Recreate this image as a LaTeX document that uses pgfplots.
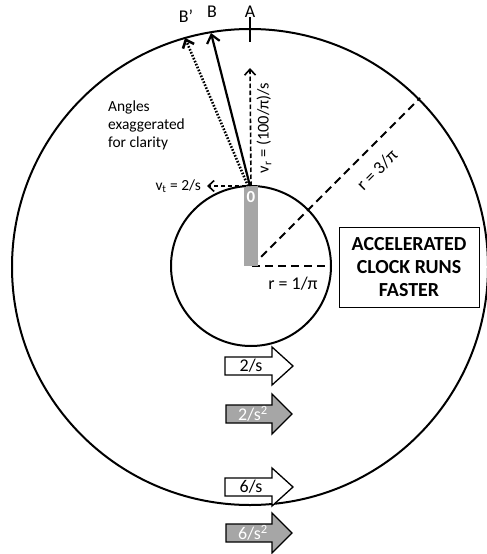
\documentclass[border=0pt]{standalone}
\usepackage{pgfplots}
\pgfplotsset{compat=1.18}
\usepackage{fontspec}
\setmainfont{Carlito}
\usetikzlibrary{arrows.meta}
\definecolor{bargray}{RGB}{166,166,166}
\begin{document}
\begin{tikzpicture}
\begin{axis}[
  width=487bp, height=554bp, scale only axis,
  xmin=0, xmax=487, ymin=0, ymax=554, y dir=reverse,
  axis lines=none, clip=false,
]
% circles
\draw[line width=2bp] (axis cs:250,267) circle[radius=238bp];
\draw[line width=2bp] (axis cs:251,266) circle[radius=80bp];
% radius lines
\addplot[line width=2bp, dash pattern=on 8bp off 5bp] coordinates {(252,266)(331,266)};
\addplot[line width=2bp, dash pattern=on 8bp off 5bp] coordinates {(252,266)(420,98)};
% bar
\addplot[fill=bargray, draw=none] coordinates {(244,186)(258,186)(258,266)(244,266)} --cycle;
\node[text=white, font=\fontsize{17}{17}\selectfont\bfseries] at (axis cs:251,197) {0};
% arrows
\addplot[line width=1.6bp, dash pattern=on 4.5bp off 2.5bp, -{Straight Barb[length=6bp,width=11bp]}] coordinates {(251,186)(250,68)};
\addplot[line width=2.2bp, -{Straight Barb[length=8bp,width=13bp]}] coordinates {(250,186)(211,33)};
\addplot[line width=2.6bp, dash pattern=on 1.6bp off 1.6bp, -{Straight Barb[length=7bp,width=12bp]}] coordinates {(248,186)(185,38)};
\addplot[line width=1.6bp, dash pattern=on 4.5bp off 2.5bp, -{Straight Barb[length=6bp,width=11bp]}] coordinates {(246,186)(207,186)};
\addplot[line width=1.3bp] coordinates {(250,17)(250,42)};
% labels
\node[font=\fontsize{18}{18}\selectfont] at (axis cs:250,12) {A};
\node[font=\fontsize{18}{18}\selectfont] at (axis cs:212,12) {B};
\node[font=\fontsize{18}{18}\selectfont] at (axis cs:186,16) {B’};
\node[anchor=east, font=\fontsize{15.5}{15.5}\selectfont, inner sep=0pt] at (axis cs:201,186) {v\textsubscript{t} = 2/s};
\node[anchor=north west, align=left, font=\fontsize{15.5}{18}\selectfont, inner sep=0pt] at (axis cs:108,101) {Angles\\exaggerated\\for clarity};
\node[rotate=90, font=\fontsize{16.5}{16.5}\selectfont] at (axis cs:264,128) {v\textsubscript{r} = (100/π)/s};
\node[rotate=45, font=\fontsize{18}{18}\selectfont] at (axis cs:377,170) {r = 3/π};
\node[font=\fontsize{18}{18}\selectfont] at (axis cs:293,284) {r = 1/π};
% box
\addplot[fill=white, draw=black, line width=0.8bp] coordinates {(339,227)(479,227)(479,307)(339,307)} --cycle;
\node[align=center, font=\fontsize{20}{23.5}\selectfont\bfseries] at (axis cs:409,267) {ACCELERATED\\CLOCK RUNS\\FASTER};
% block arrows
\addplot[fill=white, draw=black, line width=1.3bp] coordinates {(225,357)(272,357)(272,347)(293,366)(272,385)(272,375)(225,375)} --cycle;
\addplot[fill=bargray, draw=black, line width=1.3bp] coordinates {(226,405)(272,405)(272,394)(292,414)(272,434)(272,423)(226,423)} --cycle;
\addplot[fill=white, draw=black, line width=1.3bp] coordinates {(225,478)(272,478)(272,468)(293,487)(272,506)(272,496)(225,496)} --cycle;
\addplot[fill=bargray, draw=black, line width=1.3bp] coordinates {(226,524)(272,524)(272,513)(292,533)(272,553)(272,542)(226,542)} --cycle;
\node[font=\fontsize{18}{18}\selectfont] at (axis cs:251,366) {2/s};
\node[text=white, font=\fontsize{18}{18}\selectfont] at (axis cs:253,414) {2/s\textsuperscript{2}};
\node[font=\fontsize{18}{18}\selectfont] at (axis cs:251,487) {6/s};
\node[text=white, font=\fontsize{18}{18}\selectfont] at (axis cs:253,533) {6/s\textsuperscript{2}};
\end{axis}
\pgfresetboundingbox
\path[use as bounding box] (current axis.south west) rectangle (current axis.north east);
\end{tikzpicture}
\end{document}
